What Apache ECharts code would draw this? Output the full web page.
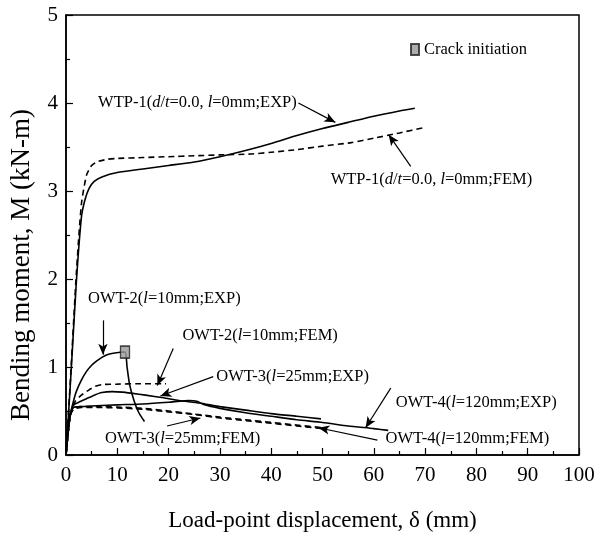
<!DOCTYPE html>
<html lang="en">
<head>
    <meta charset="UTF-8">
    <title>Bending moment vs load-point displacement</title>
    <script src="https://cdn.jsdelivr.net/npm/echarts@6/dist/echarts.min.js"></script>
</head>
<body style="margin:0;background:#fff">
<div id="main" style="width:612px;height:537px;"></div>
<script type="text/javascript">
    // 曲线数据 [位移 mm, 弯矩 kN-m]
    var wtpExp = [[0,0],[1,0.95],[2,1.95],[3,2.7],[3.7,2.9],[4.5,3.03],[5.5,3.11],[7,3.16],[10,3.21],[15,3.25],[20,3.29],[25,3.33],[30,3.39],[35,3.46],[40,3.54],[45,3.63],[50,3.71],[55,3.78],[60,3.85],[65,3.91],[68,3.94]];
    var wtpFem = [[0,0],[1,1.0],[2,2.05],[3,2.85],[4,3.18],[5,3.29],[6,3.33],[8,3.36],[10,3.37],[15,3.38],[20,3.39],[25,3.4],[30,3.41],[36,3.42],[40,3.44],[45,3.47],[50,3.51],[55.6,3.55],[60,3.6],[65,3.66],[69.7,3.72]];
    var owt2Exp = [[0,0],[0.8,0.45],[1.5,0.62],[2,0.72],[3,0.85],[4,0.95],[5,1.02],[6,1.07],[7,1.11],[8,1.14],[9.5,1.16],[11.5,1.17],[11.9,1.0],[12.4,0.8],[13.3,0.61],[14.2,0.48],[15.3,0.38]];
    var owt2Fem = [[0,0],[0.8,0.45],[1.8,0.61],[3,0.68],[4.5,0.74],[5.7,0.78],[7,0.8],[10,0.805],[14,0.81],[19.5,0.81]];
    var owt3Exp = [[0,0],[0.8,0.45],[1.5,0.57],[2.5,0.6],[4,0.64],[5.5,0.68],[7,0.71],[9,0.72],[11,0.715],[13,0.7],[15.5,0.68],[19,0.65],[22,0.62],[26,0.59],[30,0.55],[35,0.51],[40,0.47],[45,0.44],[49.7,0.41]];
    var owt3Fem = [[0,0],[0.8,0.45],[1.5,0.53],[3,0.55],[6,0.55],[10,0.545],[15,0.53],[20,0.5],[24.3,0.47],[30,0.43],[35,0.4],[40,0.37],[45,0.34],[50,0.31]];
    var owt4Exp = [[0,0],[0.8,0.45],[1.5,0.54],[3,0.55],[6,0.56],[10,0.57],[15,0.58],[20,0.6],[24,0.62],[25.5,0.61],[27,0.57],[30,0.53],[35,0.48],[40,0.44],[45,0.4],[50,0.37],[55,0.33],[60,0.3],[62.8,0.28]];
    var owt4Fem = [[0,0],[0.8,0.44],[1.5,0.52],[3,0.54],[6,0.54],[10,0.535],[15,0.52],[20,0.49],[25,0.46],[30,0.42],[35,0.39],[40,0.36],[45,0.33],[50,0.3]];
    var crackPoints = [[11.5,1.17]];

    // 标注：文字位置(左端,中线) 与 箭头 起点->终点 (数据坐标)
    var noteTexts = [
        'WTP-1({i|d}/{i|t}=0.0, {i|l}=0mm;EXP)',
        'WTP-1({i|d}/{i|t}=0.0, {i|l}=0mm;FEM)',
        'OWT-2({i|l}=10mm;EXP)',
        'OWT-2({i|l}=10mm;FEM)',
        'OWT-3({i|l}=25mm;EXP)',
        'OWT-3({i|l}=25mm;FEM)',
        'OWT-4({i|l}=120mm;EXP)',
        'OWT-4({i|l}=120mm;FEM)'
    ];
    var notePos = [[6.25,4.0],[51.6,3.13],[4.3,1.78],[22.7,1.36],[29.3,0.89],[7.6,0.19],[64.3,0.6],[62.3,0.18]];
    var arrowFrom = [[45.3,4.0],[67.2,3.28],[7.2,1.53],[20.9,1.21],[28.7,0.89],[19.7,0.33],[63.3,0.76],[60.7,0.17]];
    var arrowTo = [[52.5,3.78],[62.9,3.64],[7.2,1.14],[17.8,0.79],[18.4,0.67],[26.2,0.42],[58.4,0.31],[49.2,0.31]];

    var font = 'Liberation Serif';

    function curve(name, data, dashed) {
        return {
            name: name,
            type: 'line',
            data: data,
            showSymbol: false,
            smooth: 0.2,
            silent: true,
            lineStyle: {color: '#000', width: 1.6, type: dashed ? [6, 4] : 'solid'},
            itemStyle: {color: '#000'},
            z: 3
        };
    }

    var myChart = echarts.init(document.getElementById('main'));

    var arrows = [];
    for (var i = 0; i < arrowFrom.length; i++) {
        arrows.push([{coord: arrowFrom[i]}, {coord: arrowTo[i]}]);
    }

    var series = [
        curve('WTP-1 EXP', wtpExp, false),
        curve('WTP-1 FEM', wtpFem, true),
        curve('OWT-2 EXP', owt2Exp, false),
        curve('OWT-2 FEM', owt2Fem, true),
        curve('OWT-3 EXP', owt3Exp, false),
        curve('OWT-3 FEM', owt3Fem, true),
        curve('OWT-4 EXP', owt4Exp, false),
        curve('OWT-4 FEM', owt4Fem, true),
        {
            name: 'Crack initiation',
            type: 'scatter',
            data: crackPoints,
            symbol: 'rect',
            symbolSize: [9, 12],
            itemStyle: {color: '#999', borderColor: '#222', borderWidth: 1.5},
            z: 5
        }
    ];
    series[0].markLine = {
        silent: true,
        symbol: ['none', 'arrow'],
        symbolSize: [7, 11],
        label: {show: false},
        lineStyle: {color: '#000', width: 1.2, type: 'solid'},
        data: arrows
    };

    myChart.setOption({
        animation: false,
        backgroundColor: '#fff',
        grid: {left: 66, right: 33, top: 15, bottom: 80, show: true, borderColor: '#000', borderWidth: 1.5},
        legend: {
            data: [{name: 'Crack initiation', icon: 'rect'}],
            left: 405, top: 36,
            itemWidth: 8, itemHeight: 11,
            itemGap: 8,
            textStyle: {fontFamily: font, fontSize: 16.5, color: '#000'}
        },
        xAxis: {
            type: 'value', min: 0, max: 100, interval: 10,
            name: 'Load-point displacement, \u03b4 (mm)',
            nameLocation: 'middle', nameGap: 54,
            nameTextStyle: {fontFamily: font, fontSize: 23, color: '#000'},
            axisLine: {lineStyle: {color: '#000', width: 1.5}},
            axisTick: {inside: true, length: 7, lineStyle: {color: '#000', width: 1.2}},
            minorTick: {show: true, splitNumber: 2, length: 4, lineStyle: {color: '#000', width: 1.2}},
            splitLine: {show: false},
            axisLabel: {fontFamily: font, fontSize: 21, color: '#000', margin: 10}
        },
        yAxis: {
            type: 'value', min: 0, max: 5, interval: 1,
            axisLine: {lineStyle: {color: '#000', width: 1.5}},
            axisTick: {inside: true, length: 7, lineStyle: {color: '#000', width: 1.2}},
            minorTick: {show: true, splitNumber: 2, length: 4, lineStyle: {color: '#000', width: 1.2}},
            splitLine: {show: false},
            axisLabel: {fontFamily: font, fontSize: 21, color: '#000', margin: 8}
        },
        series: series
    });

    // 文字标注，位置由数据坐标换算
    var graphics = [{
        type: 'text',
        x: 22, y: 265,
        rotation: Math.PI / 2,
        silent: true,
        style: {
            text: 'Bending moment, M (kN-m)',
            fontFamily: font, fontSize: 27, fill: '#000',
            align: 'center', verticalAlign: 'middle'
        }
    }];
    for (var j = 0; j < noteTexts.length; j++) {
        var p = myChart.convertToPixel({gridIndex: 0}, notePos[j]);
        graphics.push({
            type: 'text',
            x: p[0], y: p[1],
            silent: true,
            style: {
                text: noteTexts[j],
                fontFamily: font, fontSize: 16.5, fill: '#000',
                verticalAlign: 'middle', align: 'left',
                rich: {i: {fontStyle: 'italic', fontFamily: font, fontSize: 16.5}}
            },
            z: 10
        });
    }
    myChart.setOption({graphic: graphics});
</script>
</body>
</html>
